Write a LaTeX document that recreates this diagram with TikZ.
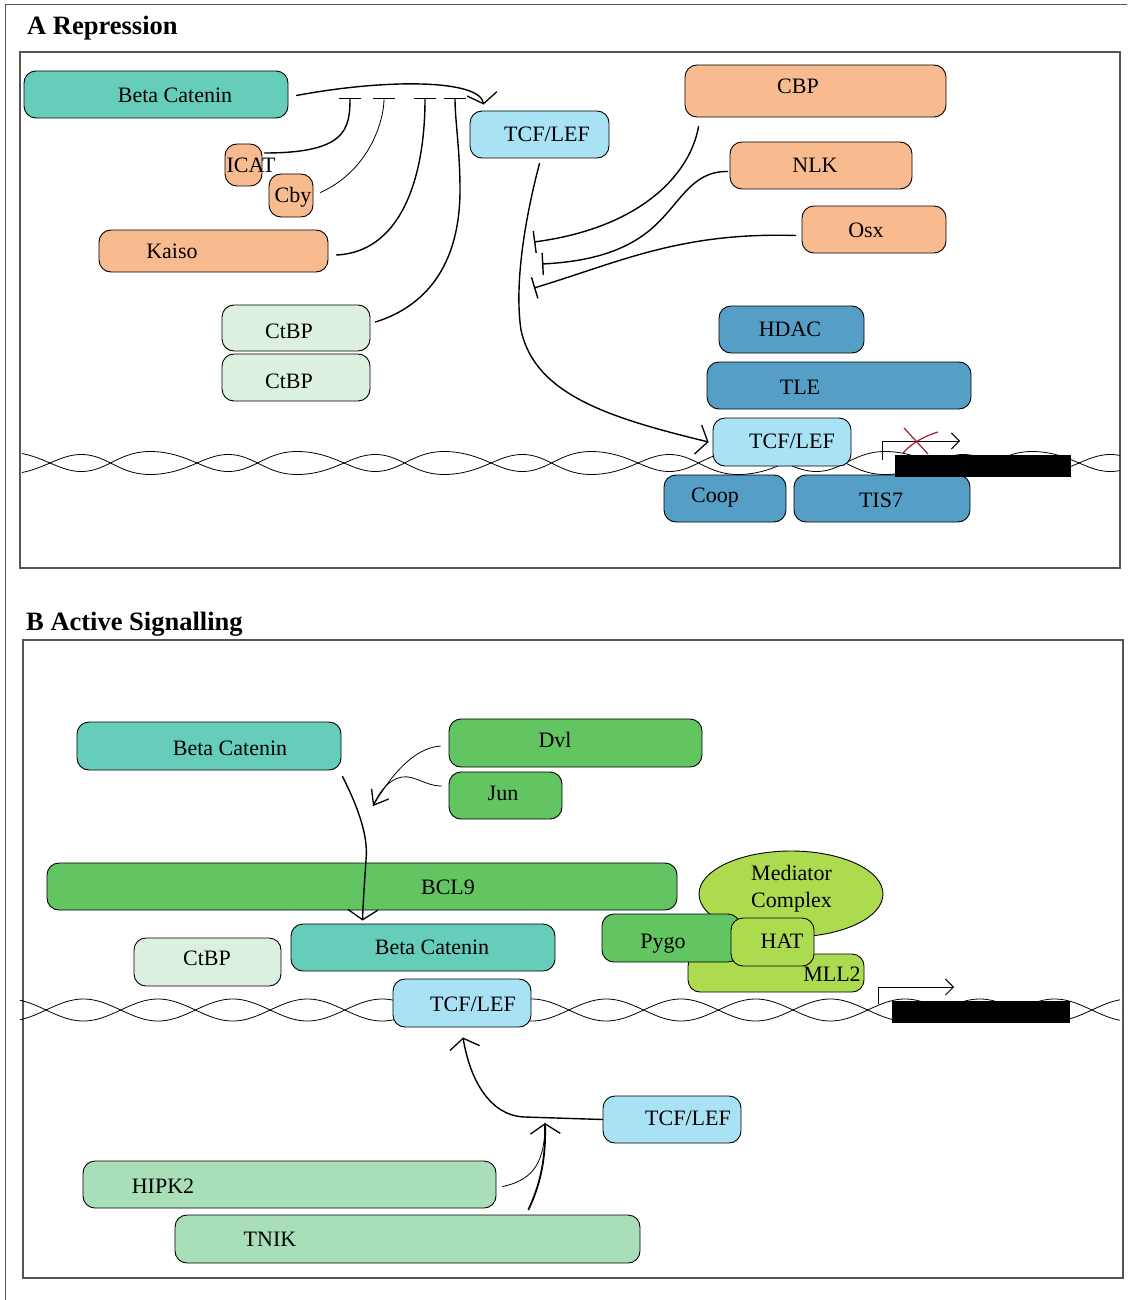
\documentclass[tikz,border=0pt]{standalone}
\usepackage{fontspec}
\setmainfont{Liberation Serif}
\usetikzlibrary{arrows.meta,calc,shapes.geometric}

\definecolor{cTeal}{HTML}{66CDBB}
\definecolor{cOrange}{HTML}{F8BB8F}
\definecolor{cPale}{HTML}{DBF0DF}
\definecolor{cSky}{HTML}{A9E1F5}
\definecolor{cSteel}{HTML}{559FC6}
\definecolor{cGreen}{HTML}{63C462}
\definecolor{cLime}{HTML}{ADDB4F}
\definecolor{cMint}{HTML}{A8DEB8}
\definecolor{cFrame}{HTML}{555555}
\definecolor{cRed}{HTML}{A61E2C}

\tikzset{
  box/.style={draw=black, line width=0.9pt, rounded corners=12pt, inner sep=0pt},
  lbl/.style={font=\fontsize{22}{26}\selectfont, inner sep=0pt},
  title/.style={font=\fontsize{26.5}{30}\selectfont\bfseries, inner sep=0pt, anchor=base west},
  frame/.style={draw=cFrame, line width=1.2pt},
  dna/.style={line width=0.8pt},
  conn/.style={line width=1.4pt, line cap=round},
  thinconn/.style={line width=0.8pt, line cap=round},
  barb/.style={-{Straight Barb[length=10pt,width=30pt,line width=1.3pt]}},
  smallbarb/.style={-{Straight Barb[length=13pt,width=20pt,line width=1.3pt]}},
  inh/.style={-{Bar[width=22pt,line width=1.4pt]}},
  declare function={
    thA(\x)=(\x-50)/147*360;
    phA(\x)=thA(\x)+17.2*(1-cos(thA(\x)));
    wA(\x)=10*sin(phA(\x))-1.5*sin(phA(\x))^2;
    wB(\x)=11*sin((\x-46)/74.7*180);
  }
}

% box with its label: name, style, x1, y1, x2, y2, label x, label y, text
\newcommand\pbox[9]{%
  \node[box,#2,minimum width={(#5-#3)*1pt},minimum height={(#6-#4)*1pt}]
    (#1) at ({(#3+#5)/2},{(#4+#6)/2}) {};
  \node[lbl,anchor=base] (#1-t) at ({#7},{#8+7.5}) {#9};}

\begin{document}
\begin{tikzpicture}[x=1pt,y=-1pt]
\useasboundingbox (0,0) rectangle (1127,1300);

% outer and panel frames
\draw[draw=cFrame, line width=1pt] (5,1300) -- (5,5) -- (1127,5);
\draw[frame] (20,52) rectangle (1120,568);
\draw[frame] (23,640) rectangle (1123,1278);

\node[title] (titA) at (27,35) {A Repression};
\node[title] (titB) at (26,630) {B Active Signalling};

% ---------------- panel A ----------------
% DNA double strand
\draw[dna] plot[domain=22:1120,samples=500,smooth] (\x,{463-wA(\x)});
\draw[dna] plot[domain=22:1120,samples=500,smooth] (\x,{463+wA(\x)});

\pbox{bcA}{fill=cTeal}{24}{71}{288}{118}{175}{95}{Beta Catenin}
\pbox{icat}{fill=cOrange}{225}{144}{262}{186}{251}{165}{ICAT}
\pbox{cby}{fill=cOrange}{269}{174}{313}{217}{293}{195}{Cby}
\pbox{kaiso}{fill=cOrange}{99}{230}{328}{272}{172}{251}{Kaiso}
\pbox{ctbpA1}{fill=cPale}{222}{305}{370}{351}{289}{331}{CtBP}
\pbox{ctbpA2}{fill=cPale}{222}{354}{370}{401}{289}{381}{CtBP}
\pbox{tcfA1}{fill=cSky}{470}{111}{609}{158}{547}{134}{TCF/LEF}
\pbox{cbp}{fill=cOrange}{685}{65}{946}{117}{798}{86}{CBP}
\pbox{nlk}{fill=cOrange}{730}{142}{912}{189}{815}{165}{NLK}
\pbox{osx}{fill=cOrange}{802}{206}{946}{253}{866}{230}{Osx}
\pbox{hdac}{fill=cSteel}{719}{306}{864}{353}{790}{329}{HDAC}
\pbox{tle}{fill=cSteel}{707}{362}{971}{409}{800}{387}{TLE}
\pbox{tcfA2}{fill=cSky}{713}{418}{851}{466}{792}{441}{TCF/LEF}
\pbox{coop}{fill=cSteel}{664}{475}{786}{522}{715}{495}{Coop}
\pbox{tis7}{fill=cSteel}{794}{475}{970}{522}{881}{500}{TIS7}

% silenced gene
\fill (895,455) rectangle (1071,477);
\coordinate (tssA) at (882,460);
\coordinate (tssAend) at (960,441);
\draw[line width=0.9pt, -{Straight Barb[length=8pt,width=16pt,line width=0.9pt]}] (tssA) |- (tssAend);
\draw[cRed, line width=1.2pt] (904,428) -- (928,454);
\draw[cRed, line width=1.2pt] (938,432) .. controls (922,437) and (911,444) .. (903,453);

% inhibition points
\coordinate (hA1) at (350,98);
\coordinate (hA2) at (384,98);
\coordinate (hA3) at (425,98);
\coordinate (hA4) at (455,98);
\coordinate (hT1) at (534,242);
\coordinate (hT2) at (542,264);
\coordinate (hT3) at (534,288);

\draw[conn,barb] ($(bcA.east)+(8,1)$) .. controls (390,78) and (480,80) .. ($(tcfA1.north west)+(14,-6)$);
\draw[conn,inh] ($(icat.east)+(2,-12)$) .. controls (345,153) and (350,130) .. (hA1);
\draw[thinconn,inh] ($(cby.east)+(7,-3)$) .. controls (370,170) and (384,120) .. (hA2);
\draw[conn,inh] ($(kaiso.east)+(8,4)$) .. controls (400,252) and (425,180) .. (hA3);
\draw[conn,inh] ($(ctbpA1.east)+(5,-6)$) .. controls (430,305) and (460,260) .. (460,190)
  .. controls (460,150) and (455,120) .. (hA4);

\draw[conn,barb] ($(tcfA1.south)+(0,5)$) .. controls (522,230) and (515,290) .. (521,330)
  .. controls (535,395) and (610,418) .. ($(tcfA2.west)+(-4,0)$);

\draw[conn,inh] ($(cbp.south west)+(14,9)$) .. controls (690,175) and (640,228) .. (hT1);
\draw[conn,inh] ($(nlk.west)+(-2,6)$) .. controls (690,171) and (680,205) .. (650,230)
  .. controls (620,255) and (580,262) .. (hT2);
\draw[conn,inh] ($(osx.west)+(-6,6)$) .. controls (680,232) and (620,262) .. (hT3);

% ---------------- panel B ----------------
\draw[dna] plot[domain=20:1120,samples=500,smooth] (\x,{1010-wB(\x)});
\draw[dna] plot[domain=20:1120,samples=500,smooth] (\x,{1010+wB(\x)});

\pbox{bcB1}{fill=cTeal}{77}{722}{341}{770}{230}{748}{Beta Catenin}
\pbox{dvl}{fill=cGreen}{449}{719}{702}{767}{555}{740}{Dvl}
\pbox{jun}{fill=cGreen}{449}{772}{562}{819}{503}{793}{Jun}
\pbox{bcl9}{fill=cGreen}{47}{863}{677}{910}{448}{887}{BCL9}
\node[ellipse, draw=black, line width=0.9pt, fill=cLime, minimum width=184pt, minimum height=86pt, inner sep=0pt]
  (med) at (791,894) {};
\node[lbl, align=left, anchor=west, font=\fontsize{22}{27}\selectfont] (med-t) at (751,889) {Mediator\\Complex};
\pbox{mll}{fill=cLime}{688}{954}{864}{992}{832}{974}{MLL2}
\pbox{pygo}{fill=cGreen}{602}{914}{740}{962}{663}{941}{Pygo}
\pbox{hat}{fill=cLime}{731}{918}{814}{966}{782}{941}{HAT}
\pbox{ctbpB}{fill=cPale}{134}{938}{281}{986}{207}{958}{CtBP}
\pbox{bcB2}{fill=cTeal}{291}{924}{555}{971}{432}{947}{Beta Catenin}
\pbox{tcfB1}{fill=cSky}{393}{979}{531}{1027}{473}{1004}{TCF/LEF}
\pbox{tcfB2}{fill=cSky}{603}{1096}{741}{1143}{688}{1118}{TCF/LEF}
\pbox{hipk}{fill=cMint}{83}{1161}{496}{1208}{163}{1186}{HIPK2}
\pbox{tnik}{fill=cMint}{175}{1215}{640}{1263}{270}{1239}{TNIK}

% active gene
\fill (892,1001) rectangle (1070,1023);
\coordinate (tssB) at (878,1004);
\coordinate (tssBend) at (954,987);
\draw[line width=0.9pt, -{Straight Barb[length=8pt,width=16pt,line width=0.9pt]}] (tssB) |- (tssBend);

\coordinate (djtip) at (373,806);
\coordinate (jB) at (545,1123);

\draw[conn,barb] ($(bcB1.south east)+(1,6)$) .. controls (362,815) and (368,840) .. (366,860)
  .. controls (364,890) and (363,905) .. ($(bcB2.north west)+(72,-3)$);
\draw[thinconn,smallbarb] ($(dvl.west)+(-8,3)$) .. controls (410,748) and (386,784) .. (djtip);
\draw[thinconn] ($(jun.west)+(-7,-9.5)$) .. controls (425,786) and (415,775) .. (402,777)
  .. controls (390,779) and (380,790) .. (djtip);

\draw[conn,barb] (tcfB2.west) -- (525,1117) .. controls (490,1116) and (470,1080) .. ($(tcfB1.south)+(1,10)$);
\draw[thinconn] ($(hipk.east)+(6,2)$) .. controls (535,1180) and (545,1160) .. (jB);
\draw[line width=1.8pt, line cap=round, barb] ($(tnik.north east)+(-112,-5)$) .. controls (540,1185) and (546,1160) .. (jB);

\end{tikzpicture}
\end{document}
